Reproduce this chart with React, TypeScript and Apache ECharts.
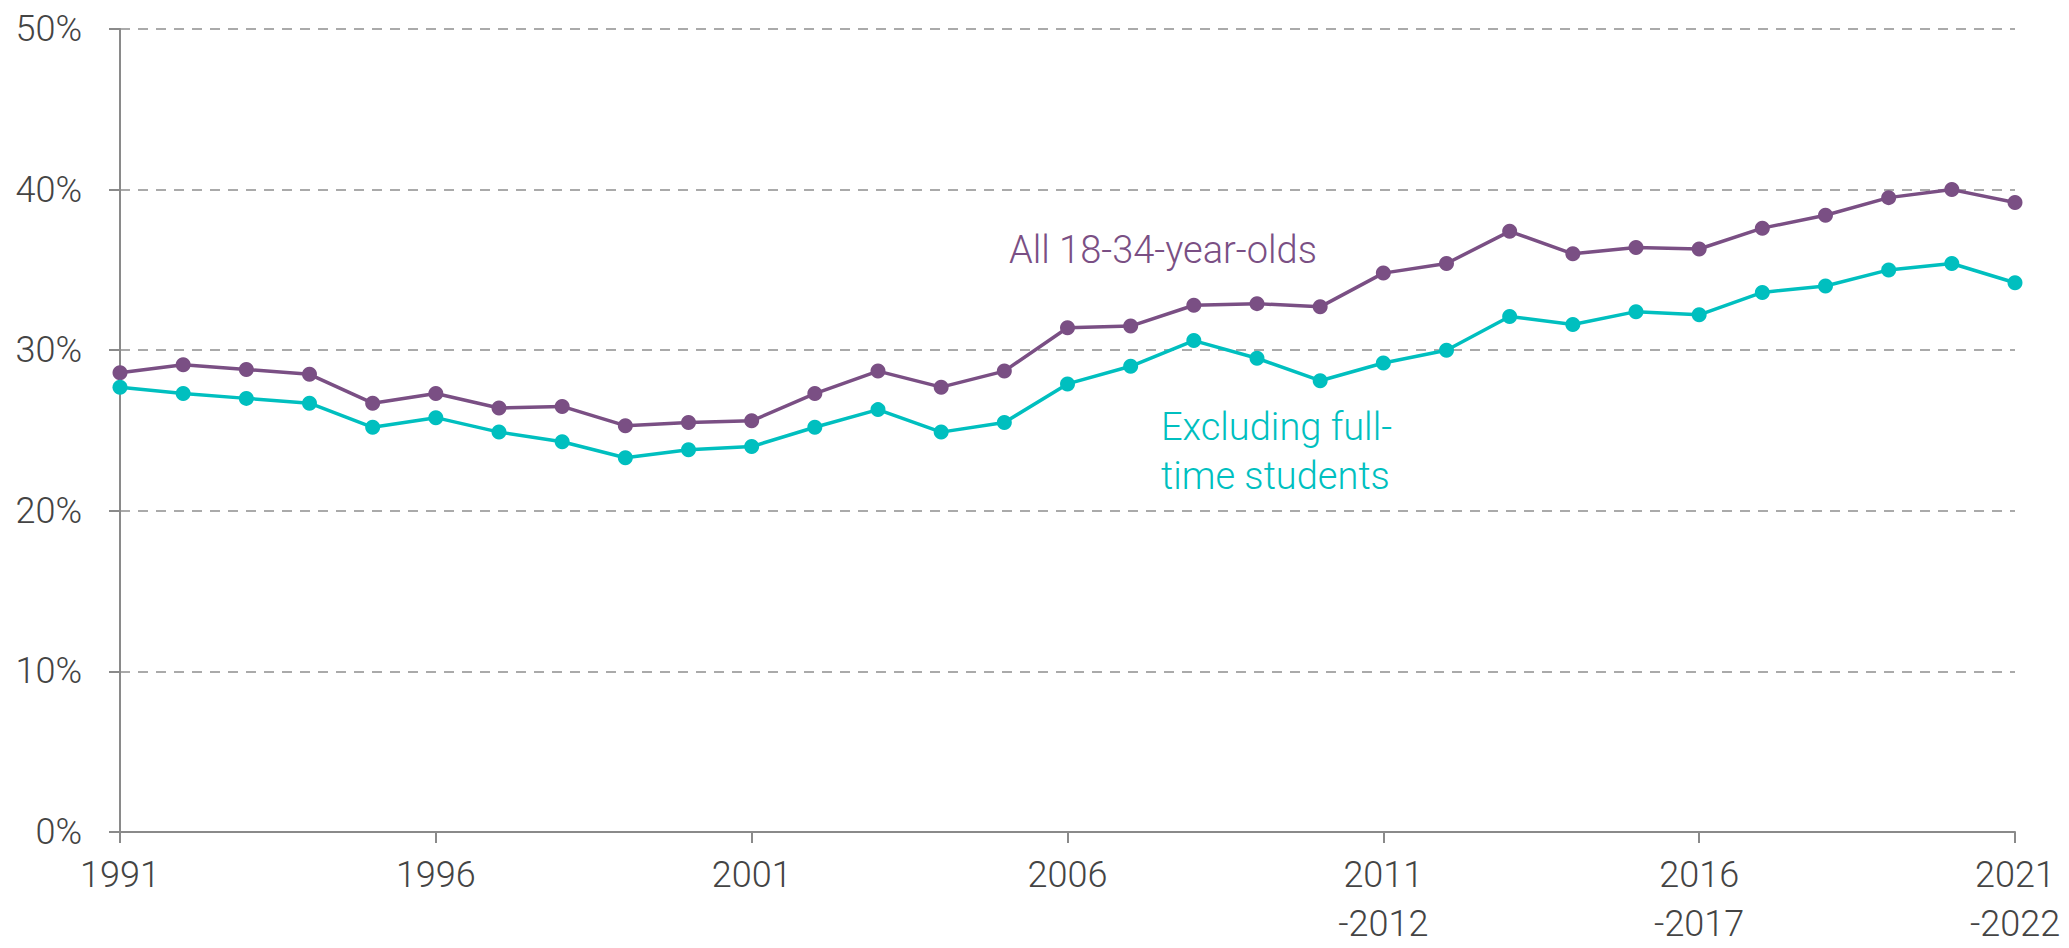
import React, { useEffect, useRef } from "react";
import * as echarts from "echarts";

// Survey years (single years up to 2010, then financial years)
const years: string[] = [
  "1991", "1992", "1993", "1994", "1995", "1996", "1997", "1998", "1999", "2000",
  "2001", "2002", "2003", "2004", "2005", "2006", "2007", "2008", "2009", "2010",
  "2011-2012", "2012-2013", "2013-2014", "2014-2015", "2015-2016", "2016-2017",
  "2017-2018", "2018-2019", "2019-2020", "2020-2021", "2021-2022",
];

// Share of 18-34-year-olds (%)
const allYoungAdults: number[] = [
  28.6, 29.1, 28.8, 28.5, 26.7, 27.3, 26.4, 26.5, 25.3, 25.5,
  25.6, 27.3, 28.7, 27.7, 28.7, 31.4, 31.5, 32.8, 32.9, 32.7,
  34.8, 35.4, 37.4, 36.0, 36.4, 36.3, 37.6, 38.4, 39.5, 40.0, 39.2,
];

// Same measure, excluding full-time students (%)
const excludingStudents: number[] = [
  27.7, 27.3, 27.0, 26.7, 25.2, 25.8, 24.9, 24.3, 23.3, 23.8,
  24.0, 25.2, 26.3, 24.9, 25.5, 27.9, 29.0, 30.6, 29.5, 28.1,
  29.2, 30.0, 32.1, 31.6, 32.4, 32.2, 33.6, 34.0, 35.0, 35.4, 34.2,
];

const yTicks: number[] = [0, 10, 20, 30, 40, 50];

const seriesNames = ["All 18-34-year-olds", "Excluding full-time students"];
const PURPLE = "#7a4f84";
const TEAL = "#00bfbf";
const FONT = "Roboto, 'Noto Sans', sans-serif";

export default function App() {
  const ref = useRef<HTMLDivElement>(null);

  useEffect(() => {
    if (!ref.current) return;
    const chart = echarts.init(ref.current, null, { renderer: "svg" });

    const lineSeries = (name: string, data: number[], color: string) => ({
      name,
      type: "line",
      data,
      symbol: "circle",
      symbolSize: 15,
      showAllSymbol: true,
      lineStyle: { color, width: 3.5 },
      itemStyle: { color },
      z: 3,
    });

    chart.setOption({
      animation: false,
      backgroundColor: "#ffffff",
      grid: { left: 120, right: 54, top: 29, bottom: 109, containLabel: false },
      xAxis: {
        type: "category",
        data: years,
        boundaryGap: false,
        axisLine: { show: true, lineStyle: { color: "#8a8a8a", width: 2 } },
        axisTick: {
          show: true,
          interval: 4,
          length: 11,
          lineStyle: { color: "#8a8a8a", width: 2 },
        },
        axisLabel: {
          interval: 4,
          margin: 18,
          color: "#444444",
          fontFamily: FONT,
          fontWeight: 300,
          fontSize: 36,
          lineHeight: 49,
          formatter: (v: string) => v.replace("-", "\n-"),
        },
        splitLine: { show: false },
      },
      yAxis: {
        type: "value",
        min: yTicks[0],
        max: yTicks[yTicks.length - 1],
        interval: 10,
        axisLine: { show: true, lineStyle: { color: "#8a8a8a", width: 2 } },
        axisTick: { show: true, length: 11, lineStyle: { color: "#8a8a8a", width: 2 } },
        axisLabel: {
          margin: 38,
          color: "#444444",
          fontFamily: FONT,
          fontWeight: 300,
          fontSize: 36,
          padding: [0, 0, 14, 0],
          formatter: (v: number) => `${v}%`,
        },
        splitLine: {
          show: true,
          lineStyle: { color: "#aaaaaa", width: 2, type: [10, 8] },
        },
      },
      series: [
        lineSeries(seriesNames[0], allYoungAdults, PURPLE),
        lineSeries(seriesNames[1], excludingStudents, TEAL),
      ],
      graphic: [
        {
          type: "text",
          x: 1009,
          y: 250,
          style: {
            text: "All 18-34-year-olds",
            fill: PURPLE,
            font: `300 38px ${FONT}`,
            verticalAlign: "middle",
          },
        },
        {
          type: "text",
          x: 1161,
          y: 427,
          style: {
            text: "Excluding full-",
            fill: TEAL,
            font: `300 38px ${FONT}`,
            verticalAlign: "middle",
          },
        },
        {
          type: "text",
          x: 1161,
          y: 476,
          style: {
            text: "time students",
            fill: TEAL,
            font: `300 38px ${FONT}`,
            verticalAlign: "middle",
          },
        },
      ],
    });

    return () => chart.dispose();
  }, []);

  return (
    <div
      ref={ref}
      style={{ position: "absolute", left: 0, top: 0, width: 2069, height: 948 }}
    />
  );
}
